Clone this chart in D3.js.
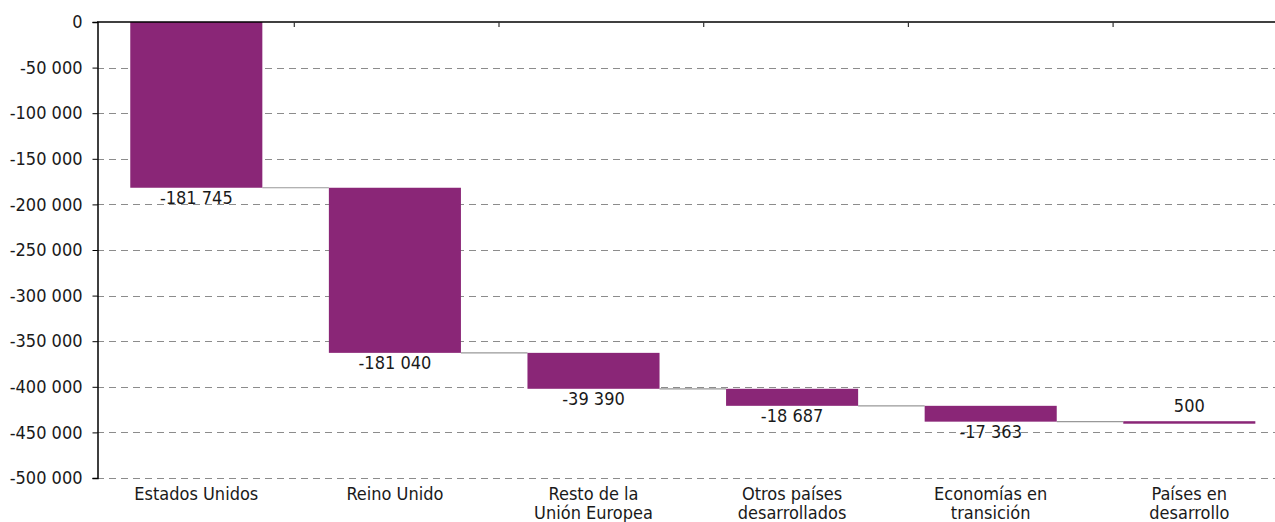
<!DOCTYPE html>
<html>
<head>
<meta charset="utf-8">
<script src="https://cdn.jsdelivr.net/npm/d3@7"></script>
<style>
  body { margin: 0; background: #fff; }
  svg text { font-family: "Liberation Sans Narrow", "DejaVu Sans Condensed", "Roboto", sans-serif; fill: #1a1a1a; }
</style>
</head>
<body>
<svg id="chart"></svg>
<script>
var categories = [["Estados Unidos"], ["Reino Unido"], ["Resto de la", "Unión Europea"],
    ["Otros países", "desarrollados"], ["Economías en", "transición"], ["Países en", "desarrollo"]]
var values = [-181745, -181040, -39390, -18687, -17363, 500]
var yTicks = [0, -50000, -100000, -150000, -200000, -250000, -300000, -350000, -400000, -450000, -500000]

var dimensions = {
    width: 1275,
    height: 522,
    margin: { top: 22, bottom: 43, right: 0, left: 97 }
}

var svg = d3.select("#chart")
    .attr("width", dimensions.width)
    .attr("height", dimensions.height)

var locale = d3.formatLocale({ decimal: ",", thousands: " ", grouping: [3], currency: ["", ""], minus: "-" })
var fmt = locale.format(",d")

// waterfall steps
var steps = []
var run = 0
values.forEach(function (v, i) {
    steps.push({ i: i, start: run, end: run + v, value: v })
    run += v
})

var ids = d3.range(categories.length)
var xScale = d3.scaleBand()
    .domain(ids)
    .range([dimensions.margin.left, dimensions.margin.left + 6 * 198.6])
    .paddingInner(0.335)
    .paddingOuter(0.1675)

// boundary ticks on the zero line
var tickScale = d3.scaleBand()
    .domain(ids)
    .range([89.6, 89.6 + 6 * 204.7])

var yScale = d3.scaleLinear()
    .domain([0, -500000])
    .range([dimensions.margin.top, dimensions.height - dimensions.margin.bottom - 1])

// grid
svg.append("g")
    .selectAll("line")
    .data(yTicks.filter(d => d !== 0))
    .enter()
    .append("line")
    .attr("x1", dimensions.margin.left)
    .attr("x2", dimensions.width)
    .attr("y1", d => Math.round(yScale(d)) + 0.5)
    .attr("y2", d => Math.round(yScale(d)) + 0.5)
    .attr("stroke", "#8c8c8c")
    .attr("stroke-dasharray", "7,5")

// connectors
svg.append("g")
    .selectAll("line")
    .data(steps.slice(0, -1))
    .enter()
    .append("line")
    .attr("x1", d => xScale(d.i) + xScale.bandwidth())
    .attr("x2", d => xScale(d.i + 1))
    .attr("y1", d => yScale(d.end))
    .attr("y2", d => yScale(d.end))
    .attr("stroke", "#999")
    .attr("stroke-width", 1.2)

// bars
svg.append("g")
    .selectAll("rect")
    .data(steps)
    .enter()
    .append("rect")
    .attr("x", d => xScale(d.i))
    .attr("y", d => Math.min(yScale(d.start), yScale(d.end)))
    .attr("width", xScale.bandwidth())
    .attr("height", d => Math.max(2.5, Math.abs(yScale(d.end) - yScale(d.start))))
    .attr("fill", "#8a2677")

// value labels
svg.append("g")
    .selectAll("text")
    .data(steps)
    .enter()
    .append("text")
    .attr("x", d => xScale(d.i) + xScale.bandwidth() / 2)
    .attr("y", d => d.value < 0 ? yScale(d.end) + 16 : yScale(d.end) - 9)
    .attr("text-anchor", "middle")
    .style("font-size", "18px")
    .text(d => fmt(d.value))

// y axis
var yAxisGen = d3.axisLeft(yScale)
    .tickValues(yTicks)
    .tickSize(5)
    .tickFormat(fmt)
var yAxis = svg.append("g")
    .attr("transform", `translate(${dimensions.margin.left + 0.5},0)`)
    .call(yAxisGen)
yAxis.select(".domain").attr("stroke", "#000").attr("stroke-width", 1.5)
yAxis.selectAll(".tick line").attr("stroke", "#000")
yAxis.selectAll(".tick text")
    .attr("x", -15)
    .style("font-size", "18px")
    .style("font-family", null)
    .attr("fill", "#1a1a1a")

// zero line with boundary ticks
svg.append("line")
    .attr("x1", dimensions.margin.left)
    .attr("x2", dimensions.width)
    .attr("y1", yScale(0))
    .attr("y2", yScale(0))
    .attr("stroke", "#000")
    .attr("stroke-width", 1.5)
svg.append("g")
    .selectAll("line")
    .data(ids.slice(1))
    .enter()
    .append("line")
    .attr("x1", d => tickScale(d))
    .attr("x2", d => tickScale(d))
    .attr("y1", yScale(0))
    .attr("y2", yScale(0) + 5)
    .attr("stroke", "#333")
    .attr("stroke-width", 1.2)

// category labels
var cats = svg.append("g")
    .selectAll("text")
    .data(categories)
    .enter()
    .append("text")
    .attr("x", (d, i) => xScale(i) + xScale.bandwidth() / 2)
    .attr("y", 500)
    .attr("text-anchor", "middle")
    .style("font-size", "18px")
cats.selectAll("tspan")
    .data(d => d)
    .enter()
    .append("tspan")
    .attr("x", function () { return this.parentNode.getAttribute("x") })
    .attr("dy", (d, i) => i === 0 ? 0 : 19)
    .text(d => d)
</script>
</body>
</html>
